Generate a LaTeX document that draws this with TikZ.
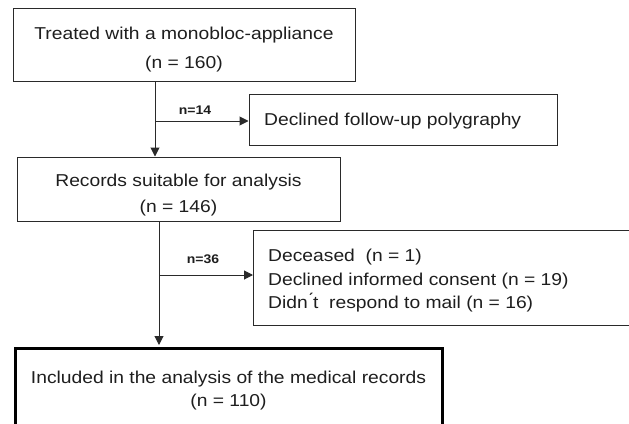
\documentclass[tikz,border=0pt]{standalone}
\usepackage{fontspec}
\setmainfont{Liberation Sans}[FakeStretch=1.12]
\usetikzlibrary{arrows.meta}

\definecolor{ink}{HTML}{1E1E1E}
\definecolor{rule}{HTML}{2A2A2A}

\tikzset{
  box/.style={draw=rule, line width=1pt, rectangle, inner sep=0pt},
  finalbox/.style={draw=black, line width=3pt, rectangle, inner sep=0pt},
  txt/.style={text=ink, align=center, inner sep=0pt,
    font=\fontsize{17.2}{26}\selectfont},
  listtxt/.style={text=ink, align=left, inner sep=0pt,
    font=\fontsize{17.2}{23.5}\selectfont},
  count/.style={text=ink, inner sep=0pt,
    font=\fontsize{12.5}{14}\selectfont\bfseries},
  flow/.style={draw=rule, line width=1pt,
    -{Triangle[length=9pt,width=9pt]}},
}

\begin{document}
\begin{tikzpicture}[x=1pt,y=-1pt]
  \useasboundingbox (0,0) rectangle (629,423);
  \fill[white] (0,0) rectangle (629,423);
  \clip (0,0) rectangle (629,423);

  % main column of boxes
  \node[box, minimum width=342pt, minimum height=73pt] (start) at (184,44.5) {};
  \node[txt, font=\fontsize{17.2}{29}\selectfont] (starttext) at (184,49.5)
    {Treated with a monobloc-appliance\\(n = 160)};

  \node[box, minimum width=323pt, minimum height=64pt] (suitable) at (178.5,189) {};
  \node[txt] (suitabletext) at (178.5,195.5) {Records suitable for analysis\\(n = 146)};

  \node[finalbox, minimum width=427pt, minimum height=83pt] (included) at (228.5,389.5) {};
  \node[txt, font=\fontsize{17.2}{23.5}\selectfont] (includedtext) at (228.5,390.5)
    {Included in the analysis of the medical records\\(n = 110)};

  % exclusion boxes
  \node[box, minimum width=308pt, minimum height=51pt] (declined) at (403,119.5) {};
  \node[listtxt, anchor=west] (declinedtext) at (264,121.5) {Declined follow-up polygraphy};

  \node[box, anchor=west, minimum width=400pt, minimum height=95pt] (excluded) at (253,277.5) {};
  \node[listtxt, anchor=west] (excludedtext) at (268,281)
    {Deceased\ \ (n = 1)\\Declined informed consent (n = 19)\\Didn\'{}t\ \ respond to mail (n = 16)};

  % junctions on the two trunks
  \coordinate (j1) at (155,121);
  \coordinate (j2) at (159,275);

  % first step
  \draw[flow] (start.south -| j1) -- (suitable.north -| j1);
  \draw[flow] (j1) -- (j1 -| declined.west);
  \node[count] (n14) at (195,110) {n=14};

  % second step
  \draw[flow] (suitable.south -| j2) -- ([yshift=1.5pt]included.north -| j2);
  \draw[flow] (j2) -- (j2 -| excluded.west);
  \node[count] (n36) at (203,259) {n=36};
\end{tikzpicture}
\end{document}
